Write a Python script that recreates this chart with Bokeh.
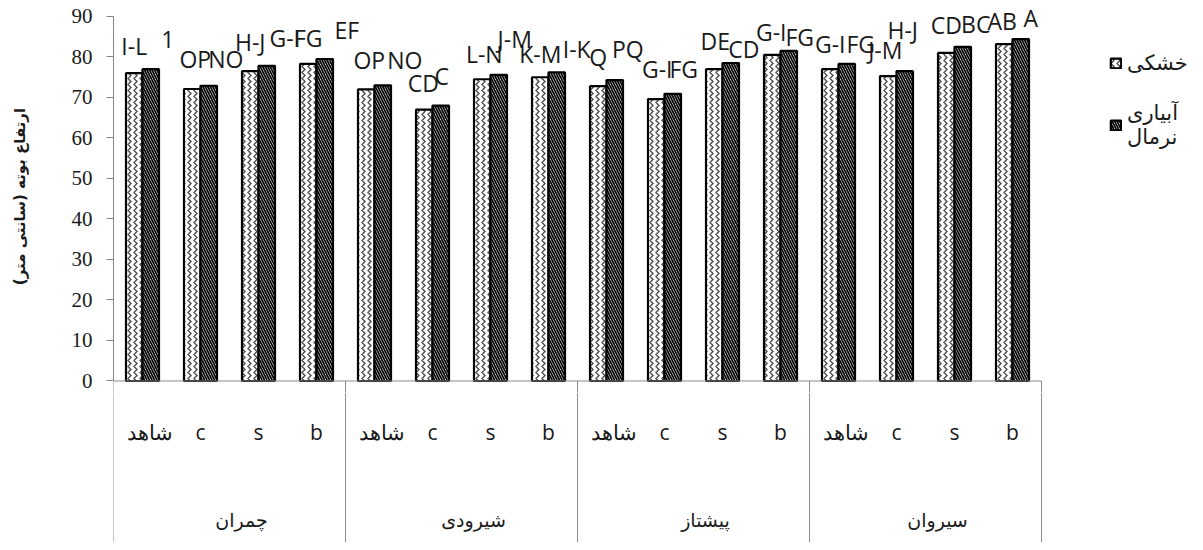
from bokeh.plotting import figure
from bokeh.layouts import column
from bokeh.models import (Range1d, FixedTicker, ColumnDataSource, Legend, LegendItem)
from bokeh.core.properties import value
from bokeh.embed import file_html
from bokeh.resources import INLINE

# ---------------- data ----------------
groups = ["چمران", "شیرودی", "پیشتاز", "سیروان"]
treatments = ["شاهد", "c", "s", "b"]
dry = [76.0, 72.1, 76.5, 78.3,
       72.0, 67.0, 74.5, 75.0,
       72.8, 69.6, 77.0, 80.5,
       77.0, 75.3, 81.0, 83.2]
wet = [77.0, 72.9, 77.8, 79.5,
       73.0, 68.0, 75.6, 76.2,
       74.3, 70.9, 78.5, 81.5,
       78.3, 76.5, 82.5, 84.4]
dry_letters = ["I-L", "OP", "H-J", "FG",
               "OP", "CD", "L-N", "K-M",
               "Q", "G-I", "DE", "G-I",
               "G-I", "J-M", "CD", "AB"]
wet_letters = ["1", "NO", "G-I", "EF",
               "NO", "C", "J-M", "I-K",
               "PQ", "FG", "CD", "FG",
               "FG", "H-J", "BC", "A"]
series_names = ["خشکی", "آبیاری\nنرمال"]
y_ticks = [0, 10, 20, 30, 40, 50, 60, 70, 80, 90]
y_title = "ارتفاع بوته (سانتی متر)"

# ---------------- layout (pixel offsets of the letter labels) ----------------
dry_dx = [0, 3, 0, 0, 3, -1, 2, 0, 0, 1, 1, -1, 0, -3, 0, -2]
dry_dy = [27, 30, 29, 26, 29, 27, 25, 23, 29, 30, 28, 23, 25, 26, 28, 23]
wet_dx = [17, 17, 18, 22, 22, 1, 16, 20, 13, 11, 13, 11, 14, -2, 13, 10]
wet_dy = [30, 27, 28, 29, 25, 30, 36, 23, 31, 25, 14, 14, 20, 41, 23, 21]

n_g, n_t = len(groups), len(treatments)
n = n_g * n_t
slot = [i + 0.5 for i in range(n)]            # slot centres on the x scale
OFF, BW = 0.142, 0.285
sub_text = [t for g in groups for t in treatments]
sub_dx = [7 if t == treatments[0] else 0 for t in sub_text]
group_x = [g * n_t + n_t / 2 for g in range(n_g)]
bounds = [g * n_t for g in range(n_g + 1)]

src = ColumnDataSource(dict(
    xd=[s - OFF for s in slot], xw=[s + OFF for s in slot], xs=slot,
    dry=dry, wet=wet, dl=dry_letters, wl=wet_letters,
    ddx=dry_dx, ddy=[-d for d in dry_dy], wdx=wet_dx, wdy=[-d for d in wet_dy],
    sub=sub_text, sdx=sub_dx,
))

x_range = Range1d(0, 18.517)
Y0 = -2.84
GRID = "#8c8c8c"

p = figure(width=1187, height=392, x_range=x_range, y_range=Range1d(Y0, 93.95),
           output_backend="svg", toolbar_location=None, x_axis_location=None,
           min_border_left=113, min_border_right=0, min_border_top=0, min_border_bottom=0)
p.outline_line_color = None
p.grid.visible = False

r_dry = p.vbar(x="xd", top="dry", bottom=0, width=BW, source=src,
               fill_color="white", line_color="black", line_width=2.2,
               hatch_pattern=">", hatch_color="#4d4d4d", hatch_scale=6, hatch_weight=1.4)
r_wet = p.vbar(x="xw", top="wet", bottom=0, width=BW, source=src,
               fill_color="white", line_color="black", line_width=2.2,
               hatch_pattern="\\", hatch_color="black", hatch_scale=5, hatch_weight=1.7)

lab_font = value("Open Sans")
p.text(x="xd", y="dry", text="dl", x_offset="ddx", y_offset="ddy", source=src,
       text_align="center", text_baseline="middle", text_font=lab_font,
       text_font_size="23px", text_color="#1a1a1a")
p.text(x="xw", y="wet", text="wl", x_offset="wdx", y_offset="wdy", source=src,
       text_align="center", text_baseline="middle", text_font=lab_font,
       text_font_size="23px", text_color="#1a1a1a")

p.segment(x0=[0], y0=[0], x1=[n], y1=[0], line_color=GRID, line_width=1)
p.segment(x0=bounds, y0=[0] * len(bounds), x1=bounds, y1=[Y0] * len(bounds),
          line_color=GRID, line_width=1)

ax = p.yaxis[0]
ax.ticker = FixedTicker(ticks=y_ticks)
ax.bounds = (0, 90)
ax.axis_line_color = "#868686"
ax.major_tick_line_color = "#868686"
ax.major_tick_out = 7
ax.major_tick_in = 0
ax.minor_tick_line_color = None
ax.major_label_text_font = "Liberation Serif"
ax.major_label_text_font_size = "21px"
ax.major_label_text_color = "#1a1a1a"
ax.major_label_standoff = 14
ax.axis_label = y_title
ax.axis_label_text_font = "DejaVu Sans"
ax.axis_label_text_font_style = "bold"
ax.axis_label_text_font_size = "15px"
ax.axis_label_text_color = "#1a1a1a"
ax.axis_label_standoff = 40

legend = Legend(items=[LegendItem(label=series_names[0], renderers=[r_dry]),
                       LegendItem(label=series_names[1], renderers=[r_wet])],
                location=(996, 243), padding=0, margin=0, spacing=26,
                glyph_width=13, glyph_height=12, label_standoff=5,
                label_text_font="DejaVu Sans", label_text_font_size="21px",
                label_text_color="#1a1a1a",
                border_line_color=None, background_fill_alpha=0)
p.add_layout(legend)

# ---------------- category box below ----------------
q = figure(width=1187, height=150, x_range=x_range, y_range=Range1d(0, 1),
           output_backend="svg", toolbar_location=None,
           x_axis_location=None, y_axis_location=None,
           min_border_left=113, min_border_right=0, min_border_top=0, min_border_bottom=0)
q.outline_line_color = None
q.grid.visible = False
q.segment(x0=bounds, y0=[1] * len(bounds), x1=bounds, y1=[0] * len(bounds),
          line_color=GRID, line_width=1)
q.text(x="xs", y=0.737, text="sub", x_offset="sdx", source=src,
       text_align="center", text_baseline="middle",
       text_font=lab_font, text_font_size="21px", text_color="#1a1a1a")
q.text(x=group_x, y=[0.15] * n_g, text=groups, x_offset=12, text_align="center",
       text_baseline="middle", text_font=value("DejaVu Sans"), text_font_size="19px",
       text_color="#1a1a1a")

layout = column(p, q, spacing=0)
open("out.html", "w").write(file_html(layout, INLINE))
